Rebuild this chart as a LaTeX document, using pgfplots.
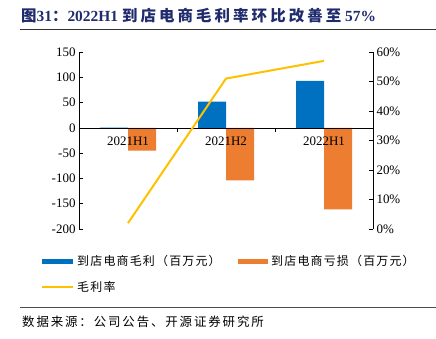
\documentclass[border=0pt]{standalone}
\usepackage{pgfplots}
\pgfplotsset{compat=1.18}
\usepackage{fontspec}
\setmainfont{Liberation Serif}
\newfontfamily\cjk{Noto Sans CJK SC}
\newfontfamily\cjkT[LetterSpace=20]{Noto Sans CJK SC}
\newfontfamily\cjkL[LetterSpace=10]{Noto Sans CJK SC}
\newfontfamily\cjkS[LetterSpace=15]{Noto Sans CJK SC}
\definecolor{cblue}{RGB}{0,112,192}
\definecolor{corange}{RGB}{237,125,49}
\definecolor{cyellow}{RGB}{255,192,0}
\definecolor{ctitle}{RGB}{31,43,108}
\begin{document}
\begin{tikzpicture}[x=1bp,y=1bp]
\useasboundingbox (0,0) rectangle (436,-338);
% title
\node[anchor=west,text=ctitle,inner sep=0] at (21,-16) {\fontsize{15.5}{15.5}\selectfont{\cjkT\bfseries 图}{\bfseries 31}{\cjkT\bfseries ：}{\bfseries 2022H1\ }{\cjkT\bfseries 到店电商毛利率环比改善至}{\bfseries\ 57\%}};
\draw[line width=0.8bp,black!80] (20,-29) -- (436,-29);
\begin{axis}[
  at={(79bp,-229bp)}, anchor=south west, scale only axis,
  width=294bp, height=177bp,
  xmin=-0.5, xmax=2.5, ymin=-200, ymax=150,
  axis y line*=left, axis x line*=middle,
  axis on top,
  ytick={-200,-150,...,150},
  xtick={0,1,2}, xticklabels={2021H1,2021H2,2022H1},
  major x tick style={draw=none},
  minor x tick num=1, minor tick length=4bp,
  minor x tick style={black, line width=0.5bp},
  tick align=inside, major tick length=4bp,
  axis line style={black, line width=0.6bp, -},
  tick style={black, line width=0.5bp},
  xticklabel style={anchor=north, yshift=-1bp},
  ticklabel style={font=\fontsize{13}{13}\selectfont},
  /pgf/number format/assume math mode=true,
  ybar=0pt, bar width=28bp,
  clip=false,
]
\addplot[fill=cblue, draw=none] coordinates {(0,0.4) (1,52) (2,93)};
\addplot[fill=corange, draw=none] coordinates {(0,-45) (1,-104) (2,-161)};
\end{axis}
\begin{axis}[
  at={(79bp,-229bp)}, anchor=south west, scale only axis,
  width=294bp, height=177bp,
  xmin=-0.5, xmax=2.5, ymin=0, ymax=60,
  axis y line*=right, axis x line=none,
  ytick={0,10,...,60},
  yticklabel={\pgfmathprintnumber{\tick}\%},
  tick align=inside, major tick length=4bp,
  axis line style={black, line width=0.6bp, -},
  tick style={black, line width=0.5bp},
  ticklabel style={font=\fontsize{13}{13}\selectfont},
  /pgf/number format/assume math mode=true,
]
\addplot[cyellow, line width=2bp] coordinates {(0,2) (1,51) (2,57)};
\end{axis}
% legend
\fill[cblue] (42,-258.5) rectangle (73,-263.5);
\node[anchor=west,inner sep=0] at (77,-261) {\fontsize{12}{12}\selectfont\cjkL 到店电商毛利（百万元）};
\fill[corange] (238,-258.5) rectangle (268,-263.5);
\node[anchor=west,inner sep=0] at (271,-261) {\fontsize{12}{12}\selectfont\cjkL 到店电商亏损（百万元）};
\draw[cyellow, line width=2bp] (42,-287) -- (73,-287);
\node[anchor=west,inner sep=0] at (77,-287) {\fontsize{12}{12}\selectfont\cjkL 毛利率};
\draw[line width=0.8bp,black!70] (20,-307) -- (436,-307);
\node[anchor=west,inner sep=0] at (22,-322) {\fontsize{12.5}{12.5}\selectfont\cjkS 数据来源：公司公告、开源证券研究所};
\end{tikzpicture}
\end{document}
